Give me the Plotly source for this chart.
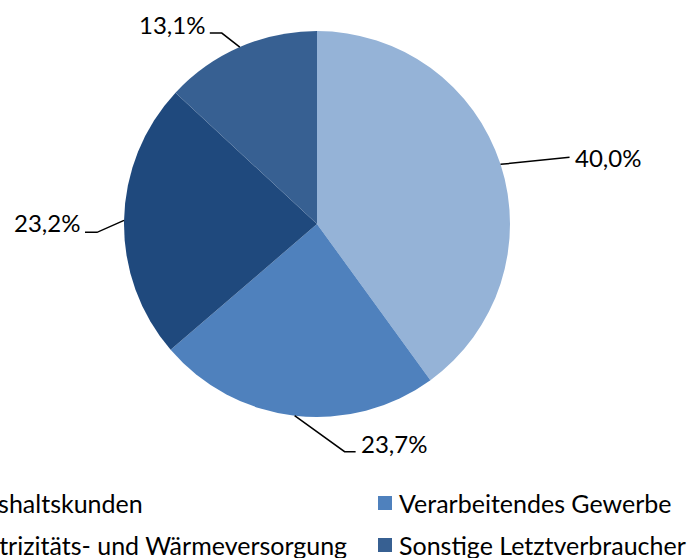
import math
import plotly.graph_objects as go

# ---- data ----
categories = ["Haushaltskunden", "Verarbeitendes Gewerbe",
              "Elektrizitäts- und Wärmeversorgung", "Sonstige Letztverbraucher"]
shares = [40.0, 23.7, 23.2, 13.1]
colors = ["#95B3D7", "#4F81BD", "#1F497D", "#376092"]

W, H = 697, 558
FONT = "Lato"
FS = 24
LEG_FS = 25

# pie geometry (pixels)
cx, cy, r = 317, 224, 193
dom_x = [(cx - r) / W, (cx + r) / W]
dom_y = [1 - (cy + r) / H, 1 - (cy - r) / H]

def px(x):
    return x / W

def py(y):
    return 1 - y / H

fig = go.Figure()
fig.add_trace(go.Pie(
    labels=categories, values=shares, sort=False, direction="clockwise",
    rotation=0, marker=dict(colors=colors, line=dict(width=0)),
    textinfo="none", hoverinfo="label+percent", showlegend=False,
    domain=dict(x=dom_x, y=dom_y),
))

# leader-line styling: (elbow dx, elbow dy, end dx, side) relative to slice edge
leader = [
    (69, -7, 0, "left"),
    (50, 36, 11, "left"),
    (-27, 12, -12, "right"),
    (-18, -14, -12, "right"),
]
label_dy = [0, -8, -10, -9]

shapes = []
annotations = []
total = sum(shares)
start = 0.0
for i, v in enumerate(shares):
    ang = (start + v / 2) / total * 2 * math.pi
    start += v
    ex = cx + r * math.sin(ang)
    ey = cy - r * math.cos(ang)
    dx1, dy1, dx2, side = leader[i]
    bx, by = ex + dx1, ey + dy1
    tx, ty = bx + dx2, by
    path = f"M {px(ex)},{py(ey)} L {px(bx)},{py(by)} L {px(tx)},{py(ty)}"
    shapes.append(dict(type="path", xref="paper", yref="paper", path=path,
                       line=dict(color="black", width=1.5)))
    label = f"{v:.1f}%".replace(".", ",")
    gap = 3
    annotations.append(dict(
        x=px(tx + (gap if side == "left" else -gap)), y=py(ty + label_dy[i]),
        xref="paper", yref="paper", text=label, showarrow=False,
        xanchor=side, yanchor="middle",
        font=dict(family=FONT, size=FS, color="black")))

# legend (2 columns x 2 rows), left column partially outside the canvas
col_x = [-68, 378]
row_y = [503, 545]
msz = 14
for i, name in enumerate(categories):
    col, row = i % 2, i // 2
    mx = col_x[col]
    my = row_y[row]
    shapes.append(dict(type="rect", xref="paper", yref="paper",
                       x0=px(mx), x1=px(mx + msz), y0=py(my + msz / 2), y1=py(my - msz / 2),
                       fillcolor=colors[i], line=dict(width=0)))
    annotations.append(dict(
        x=px(mx + msz + 5), y=py(my), xref="paper", yref="paper",
        text=name, showarrow=False, xanchor="left", yanchor="middle",
        font=dict(family=FONT, size=LEG_FS, color="black")))

fig.update_layout(
    width=W, height=H, margin=dict(l=0, r=0, t=0, b=0, autoexpand=False),
    paper_bgcolor="white", plot_bgcolor="white",
    shapes=shapes, annotations=annotations,
)

fig.write_html("out.html", config={"displayModeBar": False},
               post_script="document.body.style.margin='0';document.body.style.overflow='hidden';")
